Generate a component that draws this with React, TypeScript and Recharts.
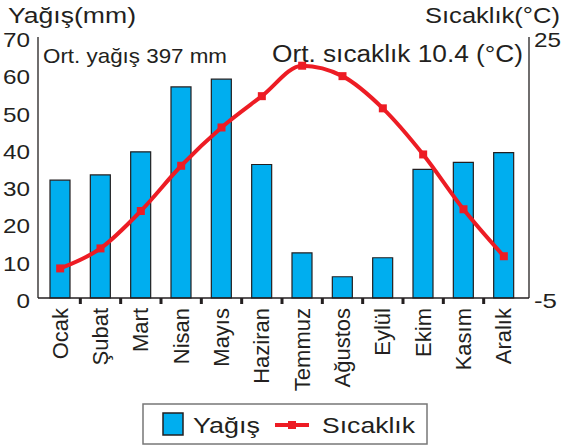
import React from "react";
import { ComposedChart, Bar, Line, XAxis, YAxis } from "recharts";

const months = ["Ocak", "Şubat", "Mart", "Nisan", "Mayıs", "Haziran", "Temmuz", "Ağustos", "Eylül", "Ekim", "Kasım", "Aralık"];
const rainfall = [31.6, 33, 39.2, 56.6, 58.7, 35.8, 12.1, 5.7, 10.8, 34.5, 36.4, 39];
const temperature = [-1.6, 0.7, 5.0, 10.2, 14.6, 18.2, 21.7, 20.5, 16.8, 11.5, 5.2, -0.2];
const rainTicks = [0, 10, 20, 30, 40, 50, 60, 70];
const tempTicks = [-5, 25];

const data = months.map((m, i) => ({ month: m, yagis: rainfall[i], sicaklik: temperature[i] }));

const W = 561;
const H = 448;
const LEFT_W = 38;
const RIGHT_W = 32;
const TOP = 37;
const X_H = 150;
const PAD_L = 2;
const PAD_R = 5;
const BAND = (W - LEFT_W - RIGHT_W - PAD_L - PAD_R) / months.length;

const FONT = "'Liberation Sans', Arial, Helvetica, sans-serif";
const INK = "#231f20";
const BLUE = "#00aeef";
const RED = "#ed1c24";

// the reference's lettering is a bit wider than Arial, so stretch it
function Stretch({ len, ...rest }: any) {
  return <text textLength={len} lengthAdjust="spacingAndGlyphs" fontFamily={FONT} fill={INK} {...rest} />;
}

function MonthTick({ x, y, payload, index }: any) {
  return (
    <g transform={`translate(${x},${y})`}>
      {index > 0 && <rect x={-BAND / 2 - 1.5} y={0} width={3} height={6} fill={INK} />}
      <text
        transform="rotate(-90)"
        x={-10}
        y={0}
        textAnchor="end"
        dominantBaseline="central"
        fontSize={22}
        fontFamily={FONT}
        fill={INK}
      >
        {payload.value}
      </text>
    </g>
  );
}

function NumTick({ x, y, payload, textAnchor }: any) {
  const s = String(payload.value);
  const len = s.length === 1 ? 13.5 : s.startsWith("-") ? 23 : 27;
  return (
    <Stretch len={len} x={x} y={y + 10} fontSize={21} textAnchor={textAnchor}>
      {s}
    </Stretch>
  );
}

function SquareDot({ cx, cy, index }: any) {
  return <rect key={index} x={cx - 4} y={cy - 4} width={8} height={8} fill={RED} />;
}

export default function App() {
  return (
    <div style={{ position: "absolute", left: 0, top: 0, width: W, height: H, background: "#fff" }}>
      <ComposedChart width={W} height={H} data={data} margin={{ top: TOP, right: 0, bottom: 0, left: 0 }}>
        <XAxis
          dataKey="month"
          height={X_H}
          interval={0}
          padding={{ left: PAD_L, right: PAD_R }}
          tickLine={false}
          tickSize={0}
          tickMargin={0}
          axisLine={{ stroke: INK, strokeWidth: 1.3 }}
          tick={<MonthTick />}
        />
        <XAxis xAxisId="top" orientation="top" dataKey="month" height={0} tick={false} tickLine={false} axisLine={{ stroke: INK, strokeWidth: 1.3 }} />
        <YAxis
          yAxisId="rain"
          width={LEFT_W}
          domain={[0, 70]}
          ticks={rainTicks}
          tickLine={false}
          axisLine={{ stroke: INK, strokeWidth: 1.3 }}
          tick={<NumTick />}
        />
        <YAxis
          yAxisId="temp"
          orientation="right"
          width={RIGHT_W}
          domain={[-5, 25]}
          ticks={tempTicks}
          tickLine={false}
          tickSize={2}
          tickMargin={3}
          axisLine={{ stroke: INK, strokeWidth: 1.3 }}
          tick={<NumTick />}
        />
        <Bar yAxisId="rain" dataKey="yagis" barSize={20} fill={BLUE} stroke={INK} strokeWidth={1.2} isAnimationActive={false} />
        <Line
          yAxisId="temp"
          type="monotone"
          dataKey="sicaklik"
          stroke={RED}
          strokeWidth={4}
          dot={<SquareDot />}
          activeDot={false}
          isAnimationActive={false}
        />
      </ComposedChart>
      <svg width={W} height={H} style={{ position: "absolute", left: 0, top: 0, pointerEvents: "none" }}>
        <Stretch len={128} x={8} y={23} fontSize={22}>Yağış(mm)</Stretch>
        <Stretch len={135} x={560} y={23} fontSize={22} textAnchor="end">Sıcaklık(°C)</Stretch>
        <Stretch len={184} x={43} y={63} fontSize={21}>Ort. yağış 397 mm</Stretch>
        <Stretch len={251} x={523} y={62} fontSize={23} textAnchor="end">Ort. sıcaklık 10.4 (°C)</Stretch>
        <rect x={143} y={404} width={284} height={40} fill="#fff" stroke="#777" strokeWidth={1.5} />
        <rect x={163} y={413} width={20} height={22} fill={BLUE} stroke={INK} strokeWidth={1.5} />
        <Stretch len={67} x={193} y={433} fontSize={22}>Yağış</Stretch>
        <line x1={275} y1={425} x2={309} y2={425} stroke={RED} strokeWidth={4} />
        <rect x={288} y={421} width={8} height={8} fill={RED} />
        <Stretch len={93} x={322} y={433} fontSize={22}>Sıcaklık</Stretch>
      </svg>
    </div>
  );
}
